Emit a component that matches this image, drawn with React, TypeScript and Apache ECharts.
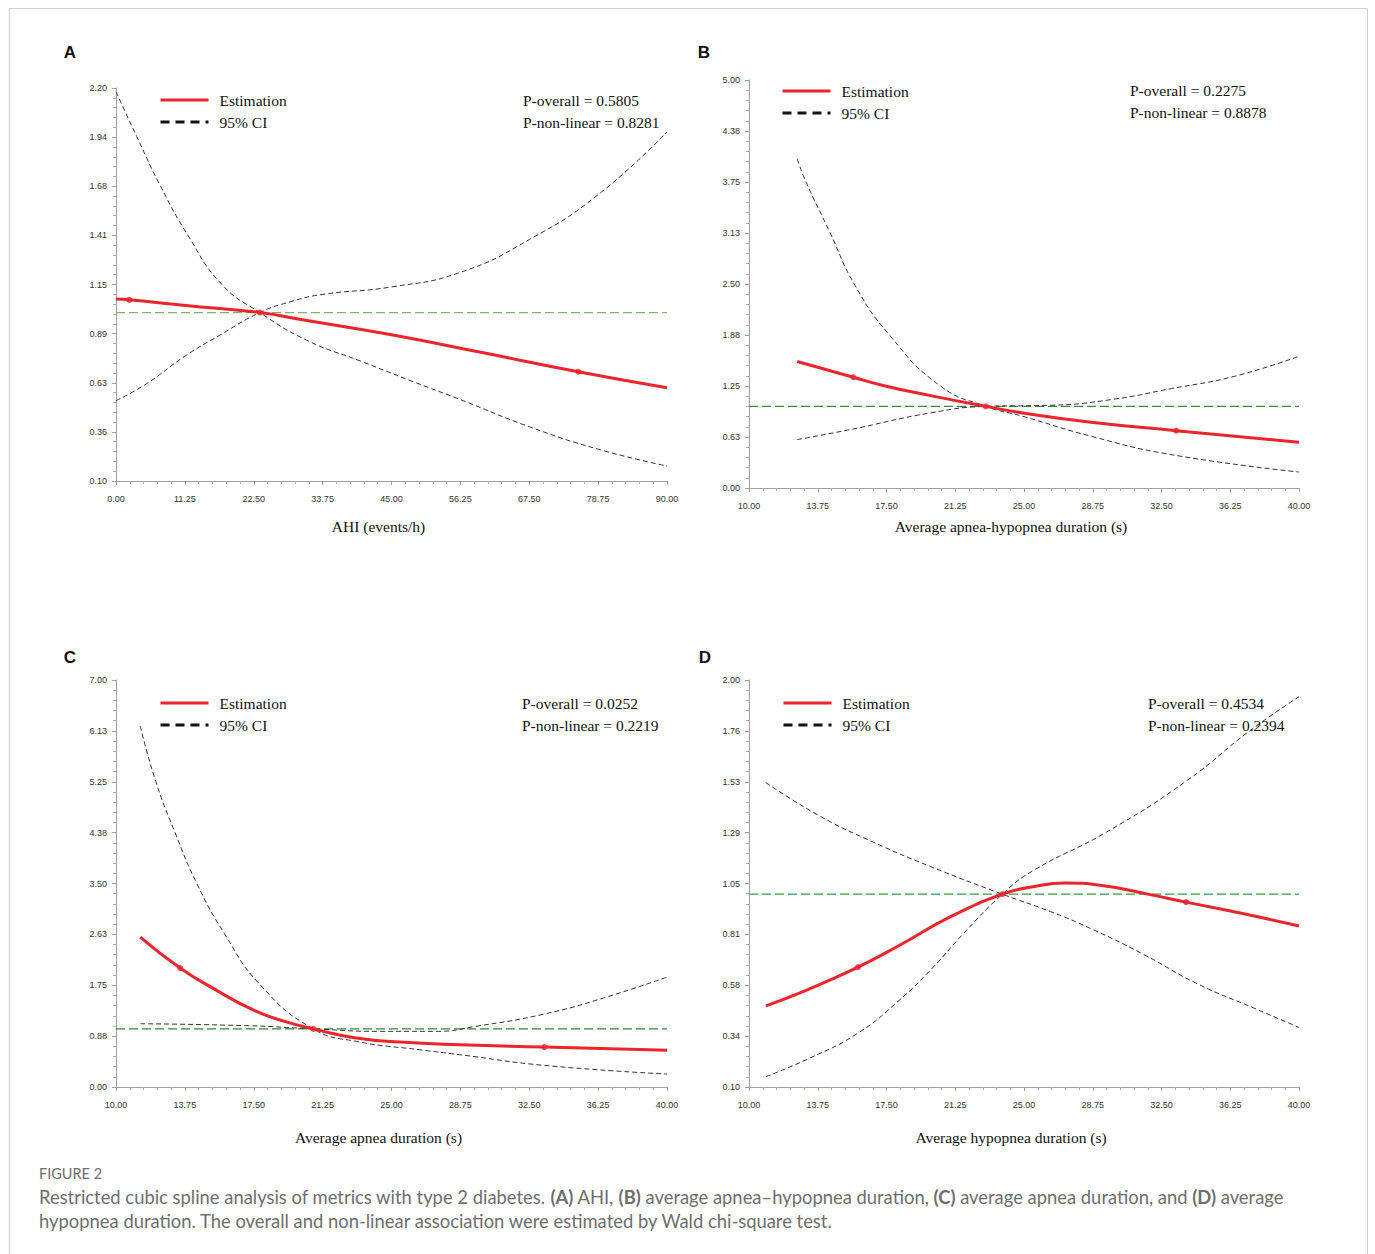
import React, { useEffect, useRef } from "react";
import * as echarts from "echarts";

// ---------- Panel A: AHI ----------
const aXTicks = ["0.00", "11.25", "22.50", "33.75", "45.00", "56.25", "67.50", "78.75", "90.00"];
const aYTicks = ["0.10", "0.36", "0.63", "0.89", "1.15", "1.41", "1.68", "1.94", "2.20"];
const aEstX = [0, 2.15, 11.4, 23.5, 30.7, 45, 60, 75.5, 90];
const aEstY = [1.072, 1.068, 1.038, 1.0, 0.96, 0.881, 0.785, 0.684, 0.598];
const aCi1X = [0, 3.4, 7.2, 11.8, 17.3, 23.5, 31.1, 40, 48.6, 56.25, 67.5, 78.75, 90];
const aCi1Y = [2.18, 1.94, 1.68, 1.41, 1.15, 1.0, 0.853, 0.74, 0.63, 0.535, 0.39, 0.27, 0.18];
const aCi2X = [0, 5, 11.25, 17, 23.5, 28.4, 33.75, 45, 56.25, 67.5, 78.75, 90];
const aCi2Y = [0.529, 0.62, 0.767, 0.88, 1.0, 1.057, 1.097, 1.137, 1.215, 1.39, 1.63, 1.965];
const aMarkX = [2.15, 23.5, 75.5];
const aMarkY = [1.068, 1.0, 0.684];

// ---------- Panel B: average apnea-hypopnea duration ----------
const bXTicks = ["10.00", "13.75", "17.50", "21.25", "25.00", "28.75", "32.50", "36.25", "40.00"];
const bYTicks = ["0.00", "0.63", "1.25", "1.88", "2.50", "3.13", "3.75", "4.38", "5.00"];
const bEstX = [12.63, 15.69, 17.49, 19.9, 22.92, 24.93, 28.66, 33.3, 40];
const bEstY = [1.55, 1.357, 1.247, 1.132, 1.0, 0.92, 0.805, 0.703, 0.56];
const bCi1X = [12.63, 13.11, 14.42, 15.74, 17.64, 20.44, 22.92, 24.93, 28.66, 33.0, 40];
const bCi1Y = [4.03, 3.75, 3.13, 2.5, 1.88, 1.25, 1.0, 0.879, 0.634, 0.41, 0.196];
const bCi2X = [12.63, 15.5, 19.9, 22.92, 26.47, 29.75, 33.03, 36.5, 40];
const bCi2Y = [0.593, 0.715, 0.92, 1.0, 1.014, 1.083, 1.218, 1.37, 1.615];
const bMarkX = [15.69, 22.92, 33.3];
const bMarkY = [1.357, 1.0, 0.703];

// ---------- Panel C: average apnea duration ----------
const cXTicks = ["10.00", "13.75", "17.50", "21.25", "25.00", "28.75", "32.50", "36.25", "40.00"];
const cYTicks = ["0.00", "0.88", "1.75", "2.63", "3.50", "4.38", "5.25", "6.13", "7.00"];
const cEstX = [11.32, 13.49, 15.27, 17.44, 19.18, 20.74, 23.08, 25.47, 28.72, 33.32, 40];
const cEstY = [2.578, 2.045, 1.7, 1.329, 1.128, 1.0, 0.842, 0.773, 0.727, 0.687, 0.63];
const cCi1X = [11.32, 12.17, 13.21, 14.4, 15.92, 17.87, 20.74, 23.08, 26.55, 28.72, 33.32, 40];
const cCi1Y = [6.21, 5.25, 4.38, 3.5, 2.63, 1.75, 1.0, 0.785, 0.64, 0.556, 0.372, 0.223];
const cCi2X = [11.32, 17.22, 20.74, 24.38, 27.42, 29.59, 33.32, 36.53, 40];
const cCi2Y = [1.088, 1.054, 1.0, 0.957, 0.957, 1.043, 1.255, 1.53, 1.89];
const cMarkX = [13.49, 20.74, 33.32];
const cMarkY = [2.045, 1.0, 0.687];

// ---------- Panel D: average hypopnea duration ----------
const dXTicks = ["10.00", "13.75", "17.50", "21.25", "25.00", "28.75", "32.50", "36.25", "40.00"];
const dYTicks = ["0.10", "0.34", "0.58", "0.81", "1.05", "1.29", "1.53", "1.76", "2.00"];
const dEstX = [10.92, 12.78, 15.95, 18.24, 20.97, 23.82, 25.5, 27.24, 29.15, 31.88, 33.84, 36.79, 40];
const dEstY = [0.479, 0.539, 0.66, 0.763, 0.894, 1.0, 1.035, 1.052, 1.042, 0.998, 0.963, 0.912, 0.852];
const dCi1X = [10.92, 13.76, 16.6, 19.88, 23.82, 26.44, 28.63, 31.5, 34.5, 37.5, 40];
const dCi1Y = [1.521, 1.37, 1.25, 1.13, 1.0, 0.919, 0.84, 0.72, 0.58, 0.47, 0.378];
const dCi2X = [10.92, 13.32, 15.95, 18.13, 20.0, 21.63, 23.82, 25.5, 29.5, 33.88, 37.27, 40];
const dCi2Y = [0.148, 0.235, 0.352, 0.5, 0.655, 0.81, 1.0, 1.11, 1.29, 1.53, 1.76, 1.922];
const dMarkX = [15.95, 23.82, 33.84];
const dMarkY = [0.66, 1.0, 0.963];

const referenceValue = 1;

const panels = [
  {
    letter: "A", xName: "AHI (events/h)", pOverall: "0.5805", pNonLinear: "0.8281",
    xMin: 0, xMax: 90, xStep: 11.25, xTicks: aXTicks,
    yMin: 0.1, yMax: 2.2, yStep: 0.2625, yTicks: aYTicks,
    est: [aEstX, aEstY], ci1: [aCi1X, aCi1Y], ci2: [aCi2X, aCi2Y], marks: [aMarkX, aMarkY],
    refColor: "#7fb46a",
    grid: { left: 116, top: 88, width: 551, height: 393 }, nameGap: 33,
    legend: { left: 159, top: 92 }, p: { x: 523, y: 100 }, lab: { x: 70, y: 52 },
  },
  {
    letter: "B", xName: "Average apnea-hypopnea duration (s)", pOverall: "0.2275", pNonLinear: "0.8878",
    xMin: 10, xMax: 40, xStep: 3.75, xTicks: bXTicks,
    yMin: 0, yMax: 5, yStep: 0.625, yTicks: bYTicks,
    est: [bEstX, bEstY], ci1: [bCi1X, bCi1Y], ci2: [bCi2X, bCi2Y], marks: [bMarkX, bMarkY],
    refColor: "#3c8a3c",
    grid: { left: 749, top: 80, width: 550, height: 408 }, nameGap: 26,
    legend: { left: 781, top: 83 }, p: { x: 1130, y: 90 }, lab: { x: 704, y: 52 },
  },
  {
    letter: "C", xName: "Average apnea duration (s)", pOverall: "0.0252", pNonLinear: "0.2219",
    xMin: 10, xMax: 40, xStep: 3.75, xTicks: cXTicks,
    yMin: 0, yMax: 7, yStep: 0.875, yTicks: cYTicks,
    est: [cEstX, cEstY], ci1: [cCi1X, cCi1Y], ci2: [cCi2X, cCi2Y], marks: [cMarkX, cMarkY],
    refColor: "#2f8a36",
    grid: { left: 116, top: 680, width: 551, height: 407 }, nameGap: 38,
    legend: { left: 159, top: 695 }, p: { x: 522, y: 703 }, lab: { x: 70, y: 657 },
  },
  {
    letter: "D", xName: "Average hypopnea duration (s)", pOverall: "0.4534", pNonLinear: "0.2394",
    xMin: 10, xMax: 40, xStep: 3.75, xTicks: dXTicks,
    yMin: 0.1, yMax: 2.0, yStep: 0.2375, yTicks: dYTicks,
    est: [dEstX, dEstY], ci1: [dCi1X, dCi1Y], ci2: [dCi2X, dCi2Y], marks: [dMarkX, dMarkY],
    refColor: "#3a9a4a",
    grid: { left: 749, top: 680, width: 550, height: 407 }, nameGap: 38,
    legend: { left: 782, top: 695 }, p: { x: 1148, y: 703 }, lab: { x: 705, y: 657 },
  },
];

const SERIF = "'Liberation Serif', 'Times New Roman', serif";
const SANS = "'Liberation Sans', Arial, sans-serif";
const CAP = "Lato, 'Open Sans', sans-serif";
const RED = "#e8262c";
const CI_COLOR = "#333333";
const CAP_COLOR = "#6e6e6e";

function buildOption() {
  const grid: any[] = [];
  const xAxis: any[] = [];
  const yAxis: any[] = [];
  const series: any[] = [];
  const legend: any[] = [];
  const graphic: any[] = [];

  panels.forEach((p, i) => {
    const pair = (xs: number[], ys: number[]) => xs.map((x, k) => [x - p.xMin, ys[k] - p.yMin]);
    grid.push({ ...p.grid, containLabel: false });
    xAxis.push({
      type: "value", gridIndex: i, min: 0, max: p.xMax - p.xMin, interval: p.xStep,
      offset: 4,
      name: p.xName, nameLocation: "middle", nameGap: p.nameGap,
      nameTextStyle: { fontFamily: SERIF, fontSize: 15.5, color: "#111", padding: [0, 26, 0, 0] },
      axisLine: { show: true, lineStyle: { color: "#a0a0a0", width: 1 } },
      axisTick: { show: true, length: 4, lineStyle: { color: "#a0a0a0" } },
      minorTick: { show: true, splitNumber: 5, length: 3, lineStyle: { color: "#b0b0b0" } },
      splitLine: { show: false },
      axisLabel: {
        fontFamily: SANS, fontSize: 9, color: "#333", margin: 9,
        formatter: (v: number) => p.xTicks[Math.round(v / p.xStep)] ?? "",
      },
    });
    yAxis.push({
      type: "value", gridIndex: i, min: 0, max: p.yMax - p.yMin, interval: p.yStep,
      offset: 3,
      axisLine: { show: true, lineStyle: { color: "#a0a0a0", width: 1 } },
      axisTick: { show: true, length: 4, lineStyle: { color: "#a0a0a0" } },
      minorTick: { show: true, splitNumber: 5, length: 3, lineStyle: { color: "#b0b0b0" } },
      splitLine: { show: false },
      axisLabel: {
        fontFamily: SANS, fontSize: 9, color: "#333", margin: 6,
        formatter: (v: number) => p.yTicks[Math.round(v / p.yStep)] ?? "",
      },
    });
    series.push({
      type: "line", name: "Reference", xAxisIndex: i, yAxisIndex: i, symbol: "none",
      data: [[0, referenceValue - p.yMin], [p.xMax - p.xMin, referenceValue - p.yMin]],
      lineStyle: { color: p.refColor, width: 1.3, type: [9, 4] }, z: 2,
    });
    series.push({
      type: "line", name: "95% CI", xAxisIndex: i, yAxisIndex: i, symbol: "none",
      smooth: true, data: pair(p.ci1[0], p.ci1[1]),
      lineStyle: { color: CI_COLOR, width: 1, type: [5, 3] }, itemStyle: { color: CI_COLOR }, z: 3,
    });
    series.push({
      type: "line", name: "95% CI", xAxisIndex: i, yAxisIndex: i, symbol: "none",
      smooth: true, data: pair(p.ci2[0], p.ci2[1]),
      lineStyle: { color: CI_COLOR, width: 1, type: [5, 3] }, itemStyle: { color: CI_COLOR }, z: 3,
    });
    series.push({
      type: "line", name: "Estimation", xAxisIndex: i, yAxisIndex: i, symbol: "none",
      smooth: true, data: pair(p.est[0], p.est[1]),
      lineStyle: { color: RED, width: 3 }, itemStyle: { color: RED }, z: 4,
    });
    series.push({
      type: "scatter", name: "Estimation points", xAxisIndex: i, yAxisIndex: i,
      symbol: "circle", symbolSize: 6, data: pair(p.marks[0], p.marks[1]),
      itemStyle: { color: RED }, z: 5,
    });
    legend.push({
      orient: "vertical", left: p.legend.left, top: p.legend.top, padding: 0,
      itemWidth: 48, itemHeight: 14, itemGap: 6, selectedMode: false,
      textStyle: { fontFamily: SERIF, fontSize: 15.5, color: "#111", padding: [0, 0, 0, 6] },
      data: [
        { name: "Estimation", lineStyle: { color: RED, width: 3, type: "solid" }, itemStyle: { opacity: 0 } },
        { name: "95% CI", lineStyle: { color: "#111", width: 3, type: [9, 6] }, itemStyle: { opacity: 0 } },
      ],
    });
    graphic.push({
      type: "text", x: p.p.x, y: p.p.y,
      style: { text: "P-overall = " + p.pOverall, fontFamily: SERIF, fontSize: 15.5, fill: "#111", textAlign: "left", textVerticalAlign: "middle" },
    });
    graphic.push({
      type: "text", x: p.p.x, y: p.p.y + 22,
      style: { text: "P-non-linear = " + p.pNonLinear, fontFamily: SERIF, fontSize: 15.5, fill: "#111", textAlign: "left", textVerticalAlign: "middle" },
    });
    graphic.push({
      type: "text", x: p.lab.x, y: p.lab.y,
      style: { text: p.letter, fontFamily: SANS, fontWeight: "bold", fontSize: 17, fill: "#111", textAlign: "center", textVerticalAlign: "middle" },
    });
  });

  // frame and caption
  graphic.push({
    type: "rect", shape: { x: 9.5, y: 8.5, width: 1358, height: 1260 },
    style: { fill: "none", stroke: "#cfcfcf", lineWidth: 1 }, z: -1,
  });
  graphic.push({
    type: "text", x: 39, y: 1173,
    style: { text: "FIGURE 2", fontFamily: CAP, fontSize: 14.5, fill: CAP_COLOR, textAlign: "left", textVerticalAlign: "middle" },
  });
  const capRich = {
    b: { fontFamily: CAP, fontSize: 18.4, fontWeight: "bold", fill: CAP_COLOR },
  };
  graphic.push({
    type: "text", x: 39, y: 1197,
    style: {
      text: "Restricted cubic spline analysis of metrics with type 2 diabetes. {b|(A)} AHI, {b|(B)} average apnea\u2013hypopnea duration, {b|(C)} average apnea duration, and {b|(D)} average",
      rich: capRich, fontFamily: CAP, fontSize: 18.4, fill: CAP_COLOR, textAlign: "left", textVerticalAlign: "middle",
    },
  });
  graphic.push({
    type: "text", x: 39, y: 1221,
    style: {
      text: "hypopnea duration. The overall and non-linear association were estimated by Wald chi-square test.",
      fontFamily: CAP, fontSize: 18.4, fill: CAP_COLOR, textAlign: "left", textVerticalAlign: "middle",
    },
  });

  return {
    animation: false,
    backgroundColor: "#ffffff",
    grid, xAxis, yAxis, series, legend, graphic,
  };
}

export default function App() {
  const ref = useRef<HTMLDivElement>(null);
  useEffect(() => {
    if (!ref.current) return;
    const chart = echarts.init(ref.current, undefined, { renderer: "svg" });
    chart.setOption(buildOption() as any);
    return () => chart.dispose();
  }, []);
  return (
    <div
      ref={ref}
      style={{ position: "absolute", left: 0, top: 0, width: 1375, height: 1254, background: "#fff" }}
    />
  );
}
